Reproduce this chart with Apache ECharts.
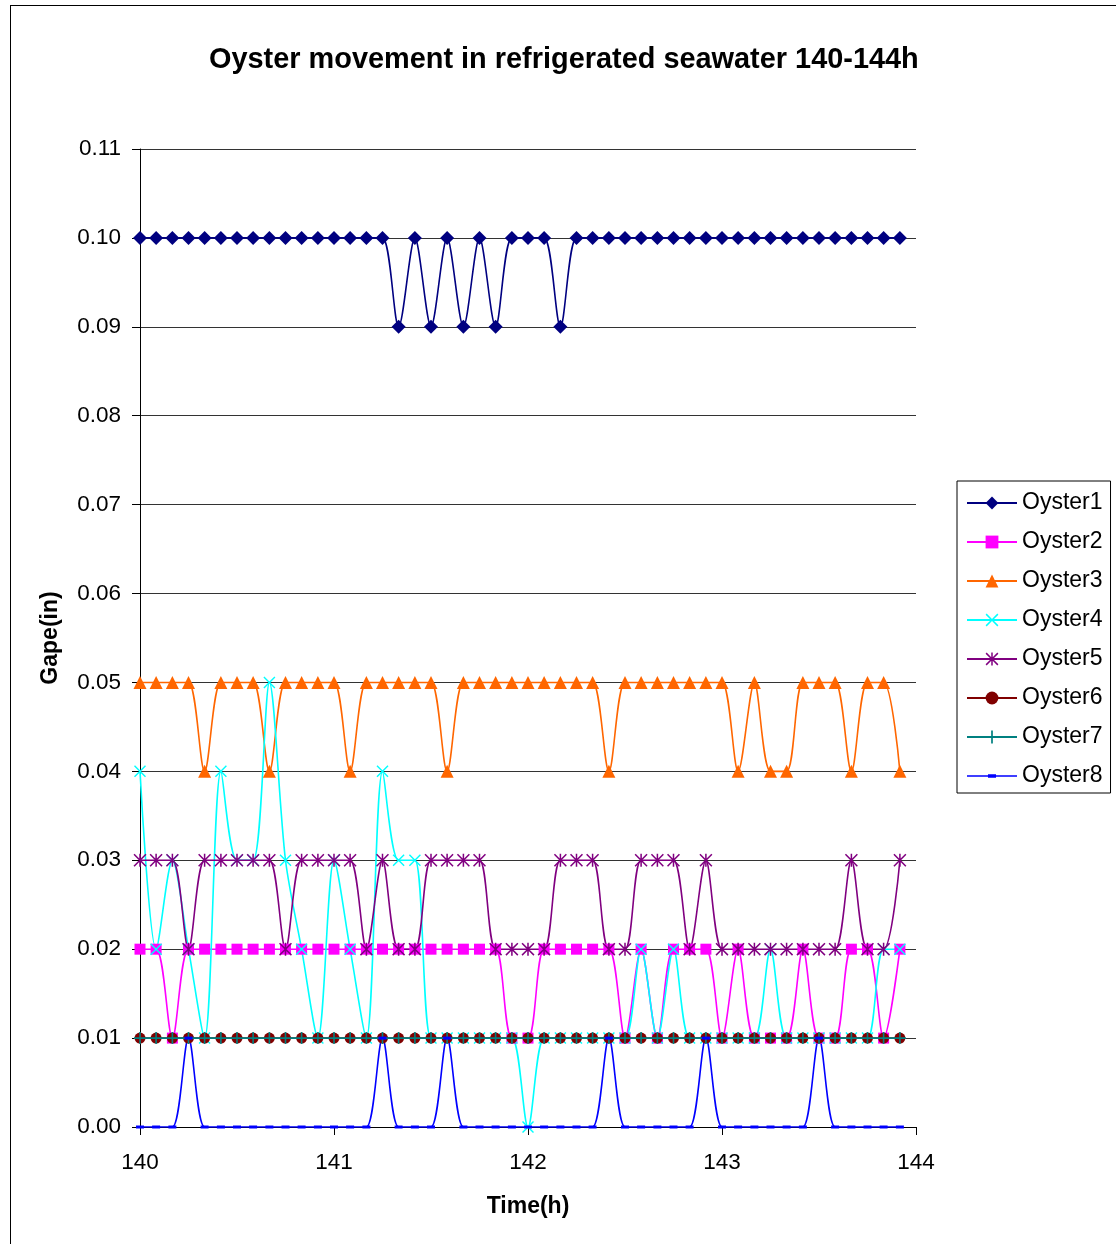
<!DOCTYPE html>
<html>
<head>
<meta charset="utf-8">
<script src="https://cdn.jsdelivr.net/npm/echarts@6/dist/echarts.min.js"></script>
<style>
  html, body { margin: 0; padding: 0; background: #fff; }
  #frame { position: absolute; left: 10px; top: 5px; width: 1130px; height: 1260px; border: 1px solid #000; box-sizing: border-box; }
  #chart { position: absolute; left: 0; top: 0; width: 1116px; height: 1244px; }
</style>
</head>
<body>
<div id="frame"></div>
<div id="chart"></div>
<script>
// Time (h), one reading every 5 minutes
var times = [140,140.083,140.167,140.25,140.333,140.417,140.5,140.583,140.667,140.75,140.833,140.917,
             141,141.083,141.167,141.25,141.333,141.417,141.5,141.583,141.667,141.75,141.833,141.917,
             142,142.083,142.167,142.25,142.333,142.417,142.5,142.583,142.667,142.75,142.833,142.917,
             143,143.083,143.167,143.25,143.333,143.417,143.5,143.583,143.667,143.75,143.833,143.917];

var oyster1 = [0.10,0.10,0.10,0.10,0.10,0.10,0.10,0.10,0.10,0.10,0.10,0.10,
               0.10,0.10,0.10,0.10,0.09,0.10,0.09,0.10,0.09,0.10,0.09,0.10,
               0.10,0.10,0.09,0.10,0.10,0.10,0.10,0.10,0.10,0.10,0.10,0.10,
               0.10,0.10,0.10,0.10,0.10,0.10,0.10,0.10,0.10,0.10,0.10,0.10];
var oyster2 = [0.02,0.02,0.01,0.02,0.02,0.02,0.02,0.02,0.02,0.02,0.02,0.02,
               0.02,0.02,0.02,0.02,0.02,0.02,0.02,0.02,0.02,0.02,0.02,0.01,
               0.01,0.02,0.02,0.02,0.02,0.02,0.01,0.02,0.01,0.02,0.02,0.02,
               0.01,0.02,0.01,0.01,0.01,0.02,0.01,0.01,0.02,0.02,0.01,0.02];
var oyster3 = [0.05,0.05,0.05,0.05,0.04,0.05,0.05,0.05,0.04,0.05,0.05,0.05,
               0.05,0.04,0.05,0.05,0.05,0.05,0.05,0.04,0.05,0.05,0.05,0.05,
               0.05,0.05,0.05,0.05,0.05,0.04,0.05,0.05,0.05,0.05,0.05,0.05,
               0.05,0.04,0.05,0.04,0.04,0.05,0.05,0.05,0.04,0.05,0.05,0.04];
var oyster4 = [0.04,0.02,0.03,0.02,0.01,0.04,0.03,0.03,0.05,0.03,0.02,0.01,
               0.03,0.02,0.01,0.04,0.03,0.03,0.01,0.01,0.01,0.01,0.01,0.01,
               0.00,0.01,0.01,0.01,0.01,0.01,0.01,0.02,0.01,0.02,0.01,0.01,
               0.01,0.01,0.01,0.02,0.01,0.01,0.01,0.01,0.01,0.01,0.02,0.02];
var oyster5 = [0.03,0.03,0.03,0.02,0.03,0.03,0.03,0.03,0.03,0.02,0.03,0.03,
               0.03,0.03,0.02,0.03,0.02,0.02,0.03,0.03,0.03,0.03,0.02,0.02,
               0.02,0.02,0.03,0.03,0.03,0.02,0.02,0.03,0.03,0.03,0.02,0.03,
               0.02,0.02,0.02,0.02,0.02,0.02,0.02,0.02,0.03,0.02,0.02,0.03];
var oyster6 = [0.01,0.01,0.01,0.01,0.01,0.01,0.01,0.01,0.01,0.01,0.01,0.01,
               0.01,0.01,0.01,0.01,0.01,0.01,0.01,0.01,0.01,0.01,0.01,0.01,
               0.01,0.01,0.01,0.01,0.01,0.01,0.01,0.01,0.01,0.01,0.01,0.01,
               0.01,0.01,0.01,0.01,0.01,0.01,0.01,0.01,0.01,0.01,0.01,0.01];
var oyster7 = [0.01,0.01,0.01,0.01,0.01,0.01,0.01,0.01,0.01,0.01,0.01,0.01,
               0.01,0.01,0.01,0.01,0.01,0.01,0.01,0.01,0.01,0.01,0.01,0.01,
               0.01,0.01,0.01,0.01,0.01,0.01,0.01,0.01,0.01,0.01,0.01,0.01,
               0.01,0.01,0.01,0.01,0.01,0.01,0.01,0.01,0.01,0.01,0.01,0.01];
var oyster8 = [0.00,0.00,0.00,0.01,0.00,0.00,0.00,0.00,0.00,0.00,0.00,0.00,
               0.00,0.00,0.00,0.01,0.00,0.00,0.00,0.01,0.00,0.00,0.00,0.00,
               0.00,0.00,0.00,0.00,0.00,0.01,0.00,0.00,0.00,0.00,0.00,0.01,
               0.00,0.00,0.00,0.00,0.00,0.00,0.01,0.00,0.00,0.00,0.00,0.00];

var seriesNames = ['Oyster1','Oyster2','Oyster3','Oyster4','Oyster5','Oyster6','Oyster7','Oyster8'];
var seriesValues = [oyster1, oyster2, oyster3, oyster4, oyster5, oyster6, oyster7, oyster8];
var yTicks = [0.00,0.01,0.02,0.03,0.04,0.05,0.06,0.07,0.08,0.09,0.10,0.11];

var colors = ['#000080','#FF00FF','#FF6600','#00FFFF','#800080','#800000','#008080','#0000FF'];
var X_PATH = 'path://M0,1L1,0L6,5L11,0L12,1L7,6L12,11L11,12L6,7L1,12L0,11L5,6Z';
var STAR_PATH = 'path://M0,1L1,0L6,5L11,0L12,1L7,6L12,11L11,12L6,7L1,12L0,11L5,6Z M5.3,0L6.7,0L6.7,12L5.3,12Z';
var PLUS_PATH = 'path://M5.2,0L6.8,0L6.8,5.2L12,5.2L12,6.8L6.8,6.8L6.8,12L5.2,12L5.2,6.8L0,6.8L0,5.2L5.2,5.2Z';
var symbols = ['diamond','rect','triangle',X_PATH,STAR_PATH,'circle',PLUS_PATH,'rect'];
var sizes = [14, 11, 13, 12, 13, 11, 12, [8,3]];
// legend icon for the dash-marker series: line with a small dash in the middle
var DASH_LEGEND = 'path://M0,0L0.01,0L0,0.01Z M49.99,16L50,16L50,15.99Z M0,7.3L50,7.3L50,8.7L0,8.7Z M21,6.3L29,6.3L29,9.7L21,9.7Z';

var FONT = 'Liberation Sans, Arial, sans-serif';

var series = seriesNames.map(function (name, k) {
  return {
    name: name,
    type: 'line',
    smooth: 0.3,
    showAllSymbol: true,
    symbol: symbols[k],
    symbolSize: sizes[k],
    data: times.map(function (t, i) { return [t, seriesValues[k][i]]; }),
    lineStyle: { color: colors[k], width: 1.6 },
    itemStyle: { color: colors[k], borderWidth: 0 },
    emphasis: { disabled: true },
    animation: false
  };
});

var legendData = seriesNames.map(function (n, k) {
  return k === 7 ? { name: n, icon: DASH_LEGEND } : { name: n };
});

var chart = echarts.init(document.getElementById('chart'), null, { renderer: 'canvas' });
chart.setOption({
  animation: false,
  backgroundColor: 'transparent',
  title: {
    text: 'Oyster movement in refrigerated seawater 140-144h',
    left: 204,
    top: 41,
    textStyle: { fontFamily: FONT, fontSize: 28.9, fontWeight: 'bold', color: '#000' }
  },
  grid: { left: 140, right: 200, top: 149, bottom: 117, containLabel: false },
  legend: {
    orient: 'vertical',
    left: 957,
    top: 481,
    width: 155,
    padding: [9, 8, 4, 9],
    itemWidth: 50,
    itemHeight: 16,
    itemGap: 13,
    borderColor: '#000',
    borderWidth: 1,
    backgroundColor: '#fff',
    textStyle: { fontFamily: FONT, fontSize: 23, color: '#000', lineHeight: 26, padding: [0, 0, 0, 0] },
    data: legendData
  },
  xAxis: {
    type: 'value',
    min: 140,
    max: 144,
    interval: 1,
    name: 'Time(h)',
    nameLocation: 'middle',
    nameGap: 68,
    nameTextStyle: { fontFamily: FONT, fontSize: 23, fontWeight: 'bold', color: '#000' },
    axisLine: { show: true, lineStyle: { color: '#000', width: 1 } },
    axisTick: { show: true, inside: false, length: 8, lineStyle: { color: '#000' } },
    axisLabel: { fontFamily: FONT, fontSize: 22.5, color: '#000', margin: 24 },
    splitLine: { show: false }
  },
  yAxis: {
    type: 'value',
    min: 0,
    max: 0.11,
    interval: 0.01,
    name: 'Gape(in)',
    nameLocation: 'middle',
    nameGap: 78,
    nameTextStyle: { fontFamily: FONT, fontSize: 23, fontWeight: 'bold', color: '#000' },
    axisLine: { show: true, lineStyle: { color: '#000', width: 1 } },
    axisTick: { show: true, inside: false, length: 8, lineStyle: { color: '#000' } },
    axisLabel: {
      fontFamily: FONT, fontSize: 22.5, color: '#000', margin: 19,
      formatter: function (v) {
        var best = yTicks.reduce(function (a, b) { return Math.abs(b - v) < Math.abs(a - v) ? b : a; });
        return best.toFixed(2);
      }
    },
    splitLine: { show: true, lineStyle: { color: '#333', width: 1 } }
  },
  series: series
});
</script>
</body>
</html>
